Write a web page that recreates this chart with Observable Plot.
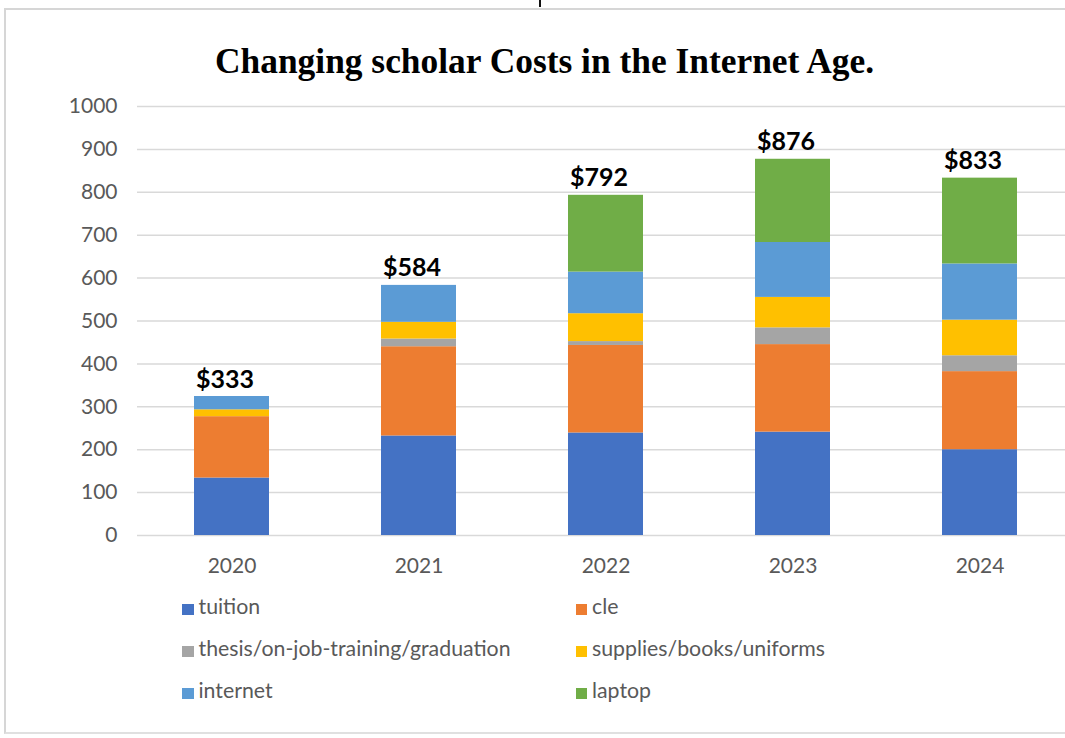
<!DOCTYPE html>
<html>
<head>
<meta charset="utf-8">
<script src="https://cdn.jsdelivr.net/npm/d3@7"></script>
<script src="https://cdn.jsdelivr.net/npm/@observablehq/plot@0.6"></script>
<style>
  html, body { margin: 0; padding: 0; background: #fff; }
  #wrap { width: 1065px; height: 738px; overflow: hidden; position: relative; }
  #frame { position: absolute; left: 4px; top: 8px; width: 1100px; height: 726px; box-sizing: border-box;
           border-left: 2px solid #d6d6d6; border-top: 2px solid #d6d6d6; border-bottom: 2px solid #e0e0e0; }
  #mark { position: absolute; left: 539px; top: 0; width: 2px; height: 7px; background: #111; }
  #title { position: absolute; left: 0; width: 1089px; top: 43.5px; text-align: center;
           font-family: "Liberation Serif", serif; font-weight: bold; font-size: 35.4px; line-height: 35px; color: #000; white-space: nowrap; }
  #chart { position: absolute; left: 0; top: 90px; width: 1065px; }
  #chart svg { max-width: none !important; }
  .lg-sw { position: absolute; width: 11.5px; height: 11.5px; }
  .lg-tx { position: absolute; font-family: Lato, sans-serif; font-size: 21.3px; line-height: 21px; color: #595959; white-space: nowrap; }
</style>
</head>
<body>
<div id="wrap">
<div id="frame"></div>
<div id="mark"></div>
<div id="title">Changing scholar Costs in the Internet Age.</div>
<div id="chart"></div>
<div id="legend"></div>
</div>
<script>
const years = ["2020", "2021", "2022", "2023", "2024"];
const categories = ["tuition", "cle", "thesis/on-job-training/graduation", "supplies/books/uniforms", "internet", "laptop"];
const colors = ["#4472C4", "#ED7D31", "#A5A5A5", "#FFC000", "#5B9BD5", "#70AD47"];
const tuition  = [134, 232, 239, 241, 200];
const cle      = [143, 208, 204, 204, 182];
const thesis   = [0, 18, 9, 39, 37];
const supplies = [16, 39, 65, 71, 83];
const internet = [31, 86, 97, 128, 131];
const laptop   = [0, 0, 179, 194, 200];
const totalLabels = ["$333", "$584", "$792", "$876", "$833"];
const yTicks = [0, 100, 200, 300, 400, 500, 600, 700, 800, 900, 1000];

const series = [tuition, cle, thesis, supplies, internet, laptop];
const data = [];
years.forEach((yr, i) => {
  categories.forEach((c, k) => data.push({year: yr, category: c, value: series[k][i]}));
});
const totals = years.map((yr, i) => ({year: yr, total: d3.sum(series, s => s[i]), label: totalLabels[i]}));

const chart = Plot.plot({
  width: 1065,
  height: 490,
  marginLeft: 137,
  marginRight: -9.5,
  marginTop: 16,
  marginBottom: 45,
  style: {fontFamily: "Lato, sans-serif", fontSize: "21px", color: "#595959", background: "transparent", overflow: "hidden"},
  x: {domain: years, paddingInner: 0.6, paddingOuter: 0.3, label: null, tickSize: 0, tickPadding: 23},
  y: {domain: [0, 1000], ticks: yTicks, label: null, tickSize: 0, tickPadding: 20, tickFormat: d => String(d)},
  color: {domain: categories, range: colors},
  marks: [
    Plot.gridY(yTicks, {stroke: "#d9d9d9", strokeOpacity: 1, strokeWidth: 1.5}),
    Plot.barY(data, {x: "year", y: "value", fill: "category", z: "category"}),
    Plot.axisX({tickSize: 0, tickPadding: 23, fill: "#595959", fontSize: 21}),
    Plot.axisY({ticks: yTicks, tickSize: 0, tickPadding: 20, fill: "#595959", fontSize: 21, tickFormat: d => String(d)}),
    Plot.text(totals, {x: "year", y: "total", text: "label", dx: -7, dy: -9, lineAnchor: "bottom",
      fill: "#000", fontWeight: "bold", fontSize: 25, fontFamily: "Lato, sans-serif"})
  ]
});
document.getElementById("chart").appendChild(chart);

// legend (2 columns x 3 rows)
const legend = document.getElementById("legend");
const colX = [182, 575.5];
const rowBase = [615, 657, 699];
categories.forEach((c, k) => {
  const col = k % 2, row = Math.floor(k / 2);
  const sw = document.createElement("div");
  sw.className = "lg-sw";
  sw.style.left = colX[col] + "px";
  sw.style.top = (rowBase[row] - 11.5) + "px";
  sw.style.background = colors[k];
  legend.appendChild(sw);
  const tx = document.createElement("div");
  tx.className = "lg-tx";
  tx.style.left = (colX[col] + 16.5) + "px";
  tx.style.top = (rowBase[row] - 18.6) + "px";
  tx.textContent = c;
  legend.appendChild(tx);
});
</script>
</body>
</html>
